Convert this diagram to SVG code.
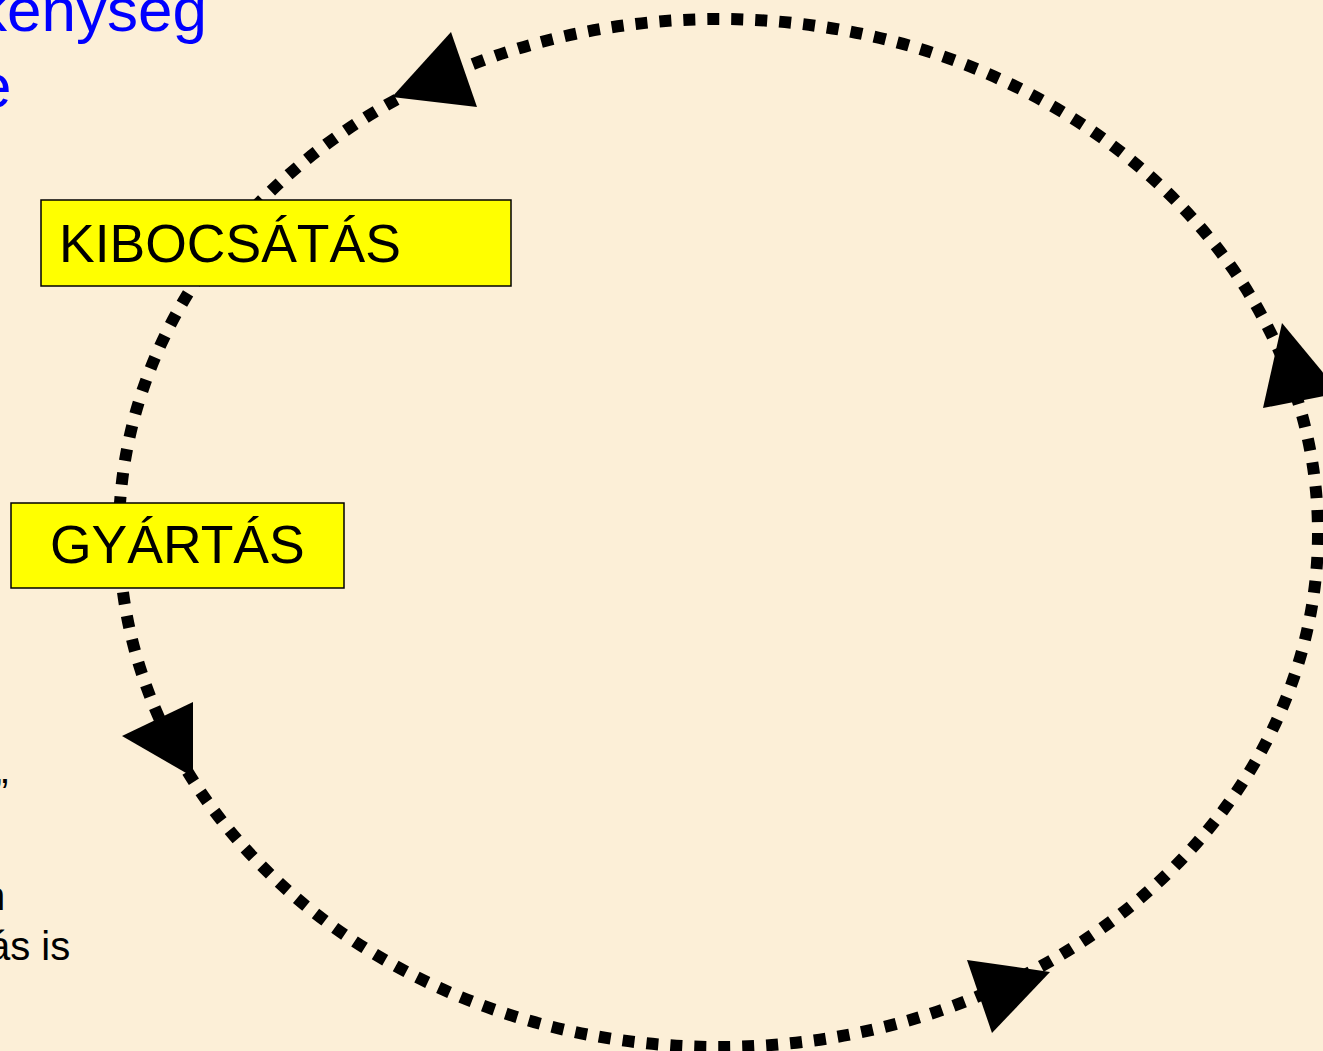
<svg xmlns="http://www.w3.org/2000/svg" width="1323" height="1051" viewBox="0 0 1323 1051">
  <style>
    .bg { fill: #FCEFD7; }
    .title { font-family: "Liberation Sans", Arial, sans-serif; font-size: 62px; fill: #0000FF; }
    .body { font-family: "Liberation Sans", Arial, sans-serif; font-size: 40px; fill: #000000; }
    .box { fill: #FFFF00; stroke: #000000; stroke-width: 1.5; }
    .label { font-family: "Liberation Sans", Arial, sans-serif; font-size: 53.5px; fill: #000000; }
    .cycle { fill: none; stroke: #000000; stroke-width: 12; stroke-dasharray: 12 12; stroke-linecap: butt; }
    .head { fill: #000000; }
  </style>
  <rect class="bg" x="0" y="0" width="1323" height="1051"/>

  <g id="title-text">
    <text class="title" x="-24" y="31">kenység</text>
    <text class="title" x="-23" y="107">e</text>
  </g>

  <g id="body-text">
    <text class="body" x="-5" y="807">”</text>
    <text class="body" x="-17" y="910">n</text>
    <text class="body" x="-12" y="960">ás is</text>
  </g>

  <g id="connectors">
    <ellipse class="cycle" cx="718.5" cy="533" rx="599.5" ry="514"/>
    <polygon class="head" points="451,32 477,107 392,97"/>
    <polygon class="head" points="1282,323 1340,393 1263,408"/>
    <polygon class="head" points="193,702 193,777 122,736"/>
    <polygon class="head" points="967,960 1050,972 992,1033"/>
  </g>

  <g id="node-kibocsatas">
    <rect class="box" x="41" y="200" width="470" height="86"/>
    <text class="label" x="59" y="262">KIBOCSÁTÁS</text>
  </g>

  <g id="node-gyartas">
    <rect class="box" x="11" y="503" width="333" height="85"/>
    <text class="label" x="50" y="563">GYÁRTÁS</text>
  </g>
</svg>
